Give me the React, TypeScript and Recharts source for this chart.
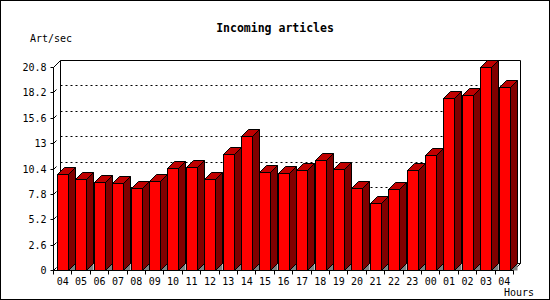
import { BarChart, Bar, XAxis, YAxis, CartesianGrid, Customized } from 'recharts'

const HOURS = ['04', '05', '06', '07', '08', '09', '10', '11', '12', '13', '14', '15', '16', '17', '18', '19', '20', '21', '22', '23', '00', '01', '02', '03', '04']
const ART_PER_SEC = [9.82, 9.31, 9.0, 8.9, 8.38, 9.1, 10.47, 10.54, 9.31, 11.87, 13.72, 10.02, 9.92, 10.23, 11.26, 10.33, 8.38, 6.84, 8.28, 10.23, 11.77, 17.62, 17.93, 20.8, 18.75]
const Y_TICKS = [0, 2.6, 5.2, 7.8, 10.4, 13, 15.6, 18.2, 20.8]

const W = 550
const H = 300
// plot box (front plane)
const LEFT = 53.5
const TOP = 67.5
const RIGHT = 513.5
const BOTTOM = 270.5
const D = 7 // 3d depth
const MONO = '"DejaVu Sans Mono", monospace'

const data = HOURS.map((hour, i) => ({ hour, rate: ART_PER_SEC[i] }))

const snap = (v: number) => Math.floor(v) + 0.5

function Bar3D(props: any) {
  const { x, y, width, height } = props
  if (x == null || width == null) return null
  const x0 = snap(x)
  const x1 = x0 + Math.round(width)
  const y0 = snap(y)
  const yb = snap(y + height)
  return (
    <g stroke="#000" strokeWidth={1}>
      <polygon points={`${x1},${yb} ${x1 + D},${yb - D} ${x1 + D},${yb}`} fill="#808080" stroke="none" />
      <polygon points={`${x1},${y0} ${x1 + D},${y0 - D} ${x1 + D},${yb - D} ${x1},${yb}`} fill="#800000" />
      <polygon points={`${x0},${y0} ${x0 + D},${y0 - D} ${x1 + D},${y0 - D} ${x1},${y0}`} fill="#c00000" />
      <rect x={x0} y={y0} width={x1 - x0} height={yb - y0} fill="#ff0000" />
    </g>
  )
}

function HourTick(props: any) {
  const { x, y, payload, index } = props
  const half = (RIGHT - LEFT) / HOURS.length / 2
  return (
    <g>
      <line x1={snap(x - half)} y1={y} x2={snap(x - half)} y2={y + 4} stroke="#000" />
      {index === HOURS.length - 1 && (
        <line x1={snap(x + half)} y1={y} x2={snap(x + half)} y2={y + 4} stroke="#000" />
      )}
      <text x={x} y={y + 14} textAnchor="middle" fontFamily={MONO} fontSize={10} fill="#000">
        {payload.value}
      </text>
    </g>
  )
}

function RateTick(props: any) {
  const { x, y, payload } = props
  const yy = snap(y)
  return (
    <g>
      <line x1={x - 3} y1={yy} x2={x} y2={yy} stroke="#000" />
      <line x1={x} y1={yy} x2={x + 3} y2={yy - 3} stroke="#000" />
      <text x={x - 7} y={y} dy="0.35em" textAnchor="end" fontFamily={MONO} fontSize={10} fill="#000">
        {payload.value}
      </text>
    </g>
  )
}

function BackLine(props: any) {
  const { x1, y1, x2, y2 } = props
  const edge = Math.abs(y1 - TOP) < 1 || Math.abs(y1 - BOTTOM) < 1
  return (
    <line
      x1={x1 + D}
      y1={snap(y1) - D}
      x2={x2 + D}
      y2={snap(y2) - D}
      stroke="#000"
      strokeDasharray={edge ? undefined : '2 3'}
    />
  )
}

function WallSide(props: any) {
  const { x1, y1, x2, y2 } = props
  return <line x1={x1 + D} y1={y1 - D} x2={x2 + D} y2={y2 - D} stroke="#000" />
}

function Frame() {
  return (
    <g>
      <rect x={0.5} y={0.5} width={W - 1} height={H - 1} fill="none" stroke="#000" />
      <line x1={LEFT} y1={TOP} x2={LEFT + D} y2={TOP - D} stroke="#000" />
      <line x1={RIGHT} y1={BOTTOM} x2={RIGHT + D} y2={BOTTOM - D} stroke="#000" />
      <text x={W / 2} y={31.5} textAnchor="middle" fontFamily={MONO} fontSize={11.5} fontWeight="bold" fill="#000">
        Incoming articles
      </text>
      <text x={30} y={42} fontFamily={MONO} fontSize={10} fill="#000">
        Art/sec
      </text>
      <text x={504} y={296} fontFamily={MONO} fontSize={10} fill="#000">
        Hours
      </text>
    </g>
  )
}

export default function App() {
  return (
    <div style={{ position: 'absolute', left: 0, top: 0, width: W, height: H, background: '#fff' }}>
      <BarChart
        width={W}
        height={H}
        data={data}
        margin={{ top: TOP, right: W - RIGHT, bottom: 0, left: 0 }}
        barSize={11}
      >
        <CartesianGrid
          stroke="#000"
          horizontal={BackLine}
          vertical={WallSide}
          verticalCoordinatesGenerator={({ offset }: any) => [offset.left, offset.left + offset.width]}
        />
        <XAxis
          dataKey="hour"
          height={H - BOTTOM}
          tickSize={0}
          tickMargin={0}
          tickLine={false}
          axisLine={{ stroke: '#000' }}
          tick={HourTick}
          interval={0}
        />
        <YAxis
          width={LEFT}
          domain={[0, 20.8]}
          ticks={Y_TICKS}
          tickSize={0}
          tickMargin={0}
          tickLine={false}
          axisLine={{ stroke: '#000' }}
          tick={RateTick}
          interval={0}
        />
        <Bar dataKey="rate" shape={Bar3D} isAnimationActive={false} />
        <Customized component={<Frame />} />
      </BarChart>
    </div>
  )
}
